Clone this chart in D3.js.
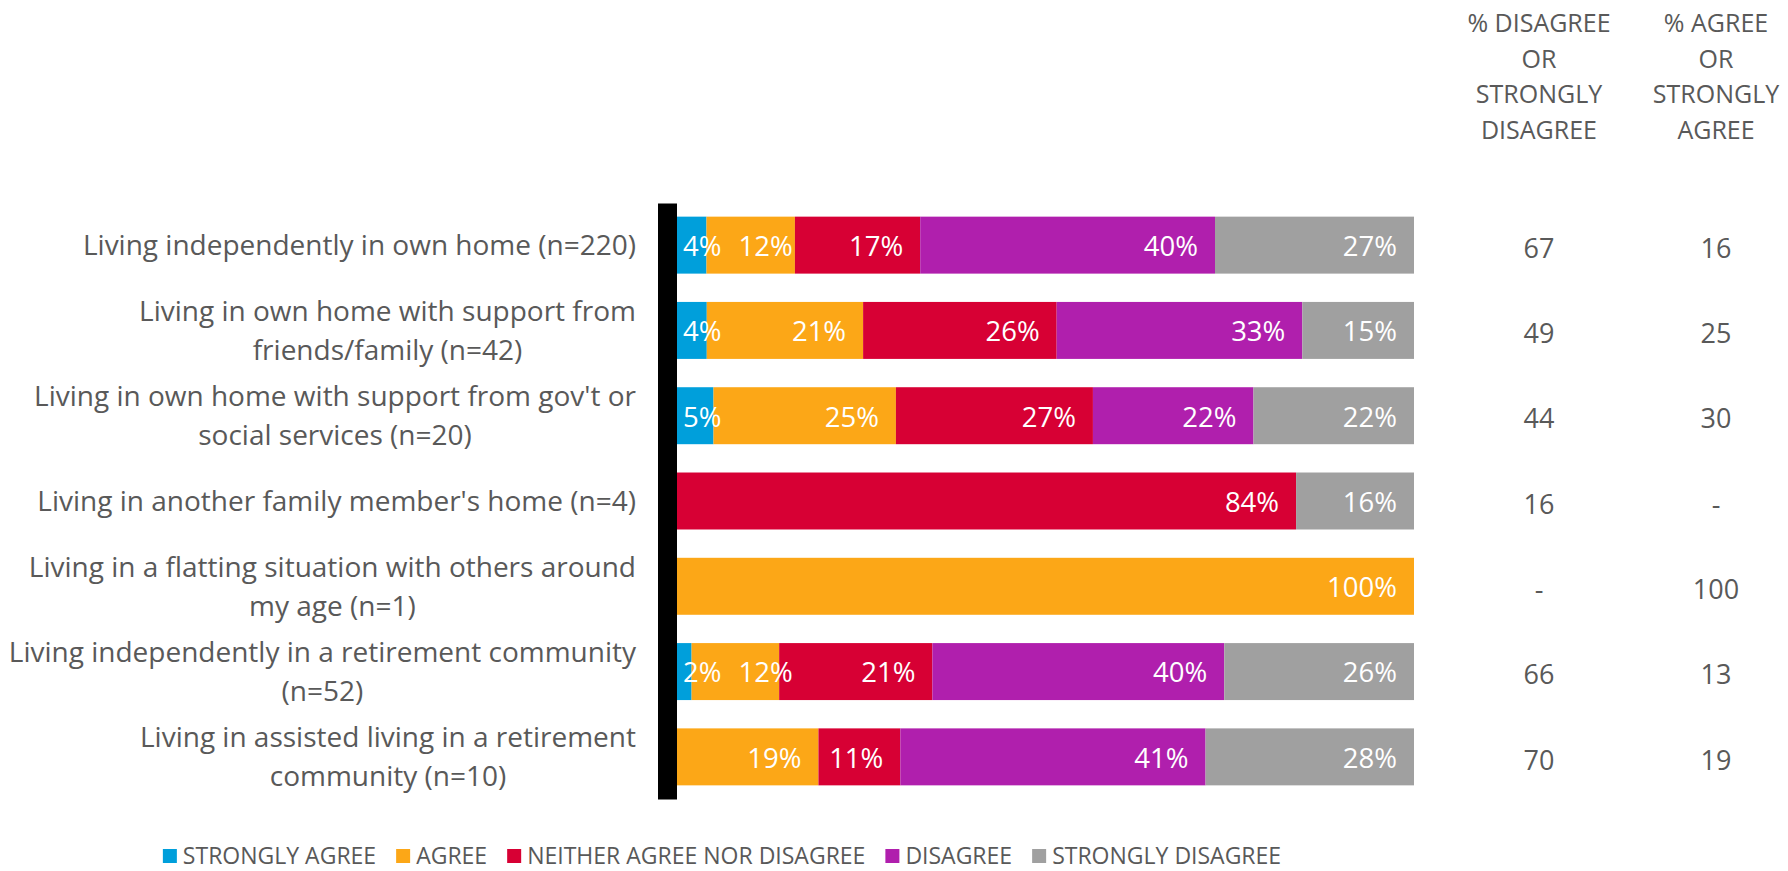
<!DOCTYPE html>
<html>
<head>
<meta charset="utf-8">
<script src="https://cdn.jsdelivr.net/npm/d3@7"></script>
<style>
  html, body { margin: 0; padding: 0; background: #ffffff; }
  svg { display: block; font-family: "Open Sans", "Noto Sans", sans-serif; }
</style>
</head>
<body>
<svg id="chart" width="1788" height="871"></svg>
<script>
// Living situations (line breaks mark where each label wraps)
const categories = [
  "Living independently in own home (n=220)",
  "Living in own home with support from\nfriends/family (n=42)",
  "Living in own home with support from gov't or\nsocial services (n=20)",
  "Living in another family member's home (n=4)",
  "Living in a flatting situation with others around\nmy age (n=1)",
  "Living independently in a retirement community\n(n=52)",
  "Living in assisted living in a retirement\ncommunity (n=10)"
];

const seriesNames = ["STRONGLY AGREE", "AGREE", "NEITHER AGREE NOR DISAGREE", "DISAGREE", "STRONGLY DISAGREE"];

// Percent of respondents per answer
const stronglyAgree    = [4, 4, 5, 0, 0, 2, 0];
const agree            = [12, 21, 25, 0, 100, 12, 19];
const neither          = [17, 26, 27, 84, 0, 21, 11];
const disagree         = [40, 33, 22, 0, 0, 40, 41];
const stronglyDisagree = [27, 15, 22, 16, 0, 26, 28];

// Summary columns
const columnHeaders = ["% DISAGREE\nOR\nSTRONGLY\nDISAGREE", "% AGREE\nOR\nSTRONGLY\nAGREE"];
const pctDisagreeTotal = ["67", "49", "44", "16", "-", "66", "70"];
const pctAgreeTotal    = ["16", "25", "30", "-", "100", "13", "19"];

const colors = ["#009fdb", "#fca717", "#d70034", "#b01fad", "#a0a0a0"];
const textGrey = "#595959";

const seriesValues = [stronglyAgree, agree, neither, disagree, stronglyDisagree];
const rows = categories.map((c, i) => {
  const r = { category: c };
  seriesNames.forEach((s, k) => { r[s] = seriesValues[k][i]; });
  return r;
});

const svg = d3.select("#chart");

const x = d3.scaleLinear().domain([0, 1]).range([677, 1414]);
const y = d3.scaleBand().domain(categories).range([203, 799])
  .paddingInner(0.332).paddingOuter(0.16);
const color = d3.scaleOrdinal().domain(seriesNames).range(colors);

// 100% stacked layout
const stacked = d3.stack().keys(seriesNames).offset(d3.stackOffsetExpand)(rows);

const layers = svg.append("g").selectAll("g.layer")
  .data(stacked).join("g")
  .attr("class", "layer")
  .attr("fill", d => color(d.key));

layers.selectAll("rect")
  .data(d => d.map(p => ({ p, key: d.key })))
  .join("rect")
  .attr("x", d => x(d.p[0]))
  .attr("y", d => y(d.p.data.category))
  .attr("width", d => Math.max(0, x(d.p[1]) - x(d.p[0])))
  .attr("height", y.bandwidth());

// Category axis: thick black line at the left of the bars
const axis = d3.axisLeft(y).tickSize(0).tickSizeOuter(0).tickFormat("");
const axisG = svg.append("g").attr("transform", "translate(667,0)").call(axis);
axisG.select(".domain").attr("stroke", "#000").attr("stroke-width", 19);

// Category labels: lines centred on each other, block right-aligned
const catG = svg.append("g")
  .attr("font-size", 28)
  .attr("fill", textGrey);
const lineGap = 38.8;
categories.forEach(c => {
  const lines = c.split("\n");
  const cy = y(c) + y.bandwidth() / 2;
  const t = catG.append("text").attr("text-anchor", "middle");
  const spans = lines.map((ln, i) =>
    t.append("tspan")
      .attr("y", cy + (i - (lines.length - 1) / 2) * lineGap)
      .attr("dy", "0.357em")
      .text(ln));
  const maxW = d3.max(spans, s => s.node().getComputedTextLength());
  spans.forEach(s => s.attr("x", 636 - maxW / 2));
});

// Value labels inside the segments, placed at the inside end
const labelG = svg.append("g")
  .attr("font-size", 27.5)
  .attr("fill", "#ffffff");
rows.forEach((row, i) => {
  let prevEnd = null;
  stacked.forEach(layer => {
    const p = layer[i];
    const v = row[layer.key];
    if (!v) return;
    const x0 = x(p[0]), x1 = x(p[1]);
    const t = labelG.append("text")
      .attr("y", y(row.category) + y.bandwidth() / 2 + 1)
      .attr("dy", "0.357em")
      .text(v + "%");
    const w = t.node().getComputedTextLength();
    let start = x1 - 17 - w;
    let minStart = x0 + 6;
    if (prevEnd !== null) minStart = Math.max(minStart, prevEnd + 17);
    if (start < minStart) start = minStart;
    t.attr("x", start);
    prevEnd = start + w;
  });
});

// Summary columns
const colX = [1539, 1716];
const headG = svg.append("g")
  .attr("font-size", 25)
  .attr("fill", textGrey)
  .attr("text-anchor", "middle");
columnHeaders.forEach((h, k) => {
  const t = headG.append("text");
  h.split("\n").forEach((ln, i) => {
    t.append("tspan")
      .attr("x", colX[k])
      .attr("y", 23 + i * 35.6)
      .attr("dy", "0.357em")
      .text(ln);
  });
});

const colG = svg.append("g")
  .attr("font-size", 27)
  .attr("fill", textGrey)
  .attr("text-anchor", "middle");
[pctDisagreeTotal, pctAgreeTotal].forEach((vals, k) => {
  colG.selectAll(null)
    .data(vals)
    .join("text")
    .attr("x", colX[k])
    .attr("y", (d, i) => y(categories[i]) + y.bandwidth() / 2 + 3)
    .attr("dy", "0.357em")
    .text(d => d);
});

// Legend
const legendG = svg.append("g")
  .attr("font-size", 23)
  .attr("fill", textGrey);
let lx = 0;
seriesNames.forEach(name => {
  const g = legendG.append("g");
  g.append("rect").attr("width", 14).attr("height", 14).attr("y", -7).attr("fill", color(name));
  const t = g.append("text").attr("x", 20).attr("dy", "0.357em").text(name);
  const w = 20 + t.node().getComputedTextLength();
  g.attr("transform", `translate(${lx},0)`);
  lx += w + 20;
});
const legendWidth = lx - 20;
legendG.attr("transform", `translate(${722 - legendWidth / 2},856)`);
</script>
</body>
</html>
